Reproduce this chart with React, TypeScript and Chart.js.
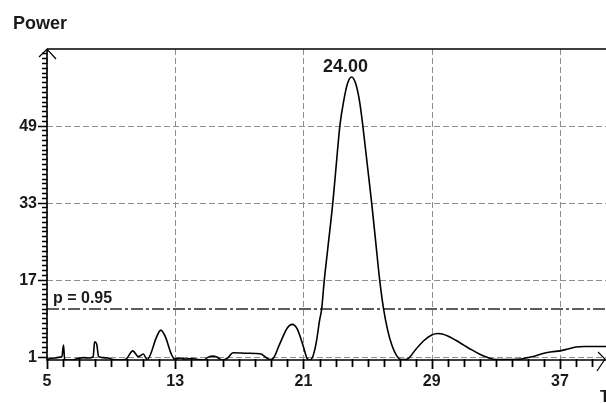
import React, { useEffect, useRef } from "react";
import { Chart, registerables } from "chart.js";

Chart.register(...registerables);

// ---- data ----
const freq = [
  5.0, 5.2, 5.5, 5.8, 5.93, 6.03, 6.1, 6.3, 6.6, 6.9, 7.3, 7.6, 7.88, 7.97, 8.1, 8.22, 8.5, 8.8, 9.1, 9.5,
  9.9, 10.35, 10.7, 11.0, 11.25, 11.45, 11.8, 12.1, 12.4, 12.7, 12.95, 13.3, 13.6, 14.0, 14.4, 14.8, 15.0, 15.3,
  15.6, 15.9, 16.3, 16.6, 17.5, 18.3, 18.9, 19.1, 19.5, 20.0, 20.3, 20.6, 21.0, 21.2, 21.4, 21.6, 21.8, 22.0,
  22.13, 22.3, 22.5, 22.83, 23.0, 23.27, 23.5, 23.75, 24.0, 24.25, 24.5, 24.7, 25.0, 25.25, 25.5, 25.75, 26.0,
  26.25, 26.5, 26.85, 27.1, 27.4, 27.6, 28.0, 28.5, 29.0, 29.4, 30.0, 30.5, 31.0, 31.5, 32.0, 32.5, 33.0, 34.0,
  34.6, 35.0, 35.5, 36.0, 36.5, 37.0, 37.5, 38.0, 38.5, 39.0, 39.87,
];
const power = [
  0.4, 0.6, 0.7, 0.9, 1.0, 3.4, 0.4, 0.3, 0.3, 0.6, 0.8, 0.7, 1.0, 4.1, 3.6, 1.0, 0.8, 0.7, 0.4, 0.3,
  0.4, 2.2, 1.0, 1.55, 0.4, 1.4, 4.8, 6.5, 5.0, 2.0, 0.5, 0.7, 0.5, 0.6, 0.4, 0.3, 0.8, 1.1,
  0.9, 0.3, 0.8, 1.8, 1.7, 1.6, 0.4, 0.6, 3.5, 7.0, 7.7, 6.8, 3.0, 0.8, 0.3, 1.2, 4.0, 8.5,
  10.8, 17.0, 23.0, 33.0, 39.2, 49.0, 54.0, 57.8, 59.1, 57.8, 54.0, 49.0, 40.3, 33.0, 25.0, 17.0, 10.8,
  6.5, 3.5, 1.0, 0.4, 0.4, 0.8, 2.5, 4.3, 5.5, 5.8, 5.3, 4.4, 3.4, 2.4, 1.5, 0.8, 0.4, 0.4,
  0.5, 0.8, 1.2, 1.7, 2.0, 2.2, 2.6, 3.0, 3.1, 3.1, 3.1,
];
const xTicks = [5, 13, 21, 29, 37];
const xMinorTicks = [
  5, 6, 7, 8, 9, 10, 11, 12, 13, 14, 15, 16, 17, 18, 19, 20, 21, 22,
  23, 24, 25, 26, 27, 28, 29, 30, 31, 32, 33, 34, 35, 36, 37, 38, 39,
];
const yTicks = [1, 17, 33, 49];
const significance = 10.8;
const significanceLabel = "p = 0.95";
const peakX = 24;
const peakY = 59.1;
const peakLabel = "24.00";
const yTitle = "Power";
const xTitle = "T";
const xMin = 5;
const xMax = 39.87;
const yMin = 0.3;
const yMax = 64.92;

const FONT = "'Liberation Sans', Arial, sans-serif";

const decor = {
  id: "decor",
  beforeDatasetsDraw(chart: any) {
    const { ctx, chartArea: a, scales } = chart;
    const x = scales.x;
    const y = scales.y;
    ctx.save();
    ctx.strokeStyle = "#8e8e8e";
    ctx.lineWidth = 1;
    ctx.setLineDash([6, 3]);
    for (const v of yTicks) {
      const py = Math.round(y.getPixelForValue(v)) + 0.5;
      ctx.beginPath();
      ctx.moveTo(a.left, py);
      ctx.lineTo(a.right, py);
      ctx.stroke();
    }
    for (const v of xTicks) {
      const px = Math.round(x.getPixelForValue(v)) + 0.5;
      ctx.beginPath();
      ctx.moveTo(px, a.top);
      ctx.lineTo(px, a.bottom);
      ctx.stroke();
    }
    ctx.strokeStyle = "#2a2a2a";
    ctx.lineWidth = 1.5;
    ctx.setLineDash([12, 3, 3, 3]);
    const sy = Math.round(y.getPixelForValue(significance));
    ctx.beginPath();
    ctx.moveTo(a.left, sy);
    ctx.lineTo(a.right, sy);
    ctx.stroke();
    ctx.restore();
  },
  afterDraw(chart: any) {
    const { ctx, chartArea: a, scales } = chart;
    const x = scales.x;
    const y = scales.y;
    ctx.save();
    ctx.setLineDash([]);
    ctx.strokeStyle = "#000";
    ctx.lineWidth = 1.6;
    ctx.beginPath();
    ctx.moveTo(a.left, a.top);
    ctx.lineTo(a.left, a.bottom);
    ctx.lineTo(a.right, a.bottom);
    ctx.moveTo(a.left, a.top);
    ctx.lineTo(a.right, a.top);
    ctx.stroke();
    ctx.lineWidth = 1.5;
    ctx.beginPath();
    for (let v = Math.ceil(yMin); v <= Math.floor(yMax); v++) {
      const py = Math.round(y.getPixelForValue(v)) + 0.5;
      const len = yTicks.includes(v) ? 9 : 5;
      ctx.moveTo(a.left - len, py);
      ctx.lineTo(a.left, py);
    }
    ctx.stroke();
    // x ticks
    ctx.lineWidth = 1.8;
    ctx.strokeStyle = "#000";
    for (const v of xMinorTicks) {
      const px = Math.round(x.getPixelForValue(v)) + 0.5;
      const len = xTicks.includes(v) ? 9 : 7;
      ctx.beginPath();
      ctx.moveTo(px, a.bottom - 1);
      ctx.lineTo(px, a.bottom + len);
      ctx.stroke();
    }
    ctx.lineWidth = 1.2;
    ctx.beginPath();
    ctx.moveTo(a.left - 8, a.top + 8);
    ctx.lineTo(a.left, a.top);
    ctx.lineTo(a.left + 9, a.top + 10);
    ctx.moveTo(a.right - 8, a.bottom - 8);
    ctx.lineTo(a.right - 1, a.bottom - 1);
    ctx.lineTo(a.right - 9, a.bottom + 11);
    ctx.stroke();

    ctx.fillStyle = "#1a1a1a";
    ctx.font = `bold 16px ${FONT}`;
    ctx.textAlign = "right";
    ctx.textBaseline = "middle";
    for (const v of yTicks) {
      ctx.fillText(String(v), a.left - 10, y.getPixelForValue(v) + 1);
    }
    ctx.textAlign = "center";
    ctx.textBaseline = "alphabetic";
    for (const v of xTicks) {
      ctx.fillText(String(v), x.getPixelForValue(v), a.bottom + 26);
    }
    ctx.textAlign = "left";
    ctx.fillText(significanceLabel, a.left + 6, y.getPixelForValue(significance) - 6);
    ctx.fillText(xTitle, 600, 402);
    ctx.font = `bold 18px ${FONT}`;
    ctx.fillText(yTitle, 13, 29);
    ctx.textAlign = "center";
    ctx.fillText(peakLabel, x.getPixelForValue(peakX) - 6, y.getPixelForValue(peakY) - 5);
    ctx.restore();
  },
};

export default function App() {
  const ref = useRef<HTMLCanvasElement | null>(null);
  useEffect(() => {
    if (!ref.current) return;
    const chart = new Chart(ref.current, {
      type: "line",
      data: {
        datasets: [
          {
            data: freq.map((f, i) => ({ x: f, y: power[i] })),
            borderColor: "#000",
            borderWidth: 1.6,
            pointRadius: 0,
            fill: false,
            cubicInterpolationMode: "monotone",
          },
        ],
      },
      options: {
        responsive: false,
        animation: false,
        events: [],
        layout: { padding: { left: 47, top: 49, right: 0, bottom: 43 } },
        plugins: { legend: { display: false }, tooltip: { enabled: false }, title: { display: false } },
        scales: {
          x: { type: "linear", min: xMin, max: xMax, display: false },
          y: { type: "linear", min: yMin, max: yMax, display: false },
        },
      },
      plugins: [decor],
    });
    return () => chart.destroy();
  }, []);
  return (
    <div style={{ position: "fixed", left: 0, top: 0, width: 606, height: 403, background: "#fff" }}>
      <canvas ref={ref} width={606} height={403} style={{ display: "block" }} />
    </div>
  );
}
